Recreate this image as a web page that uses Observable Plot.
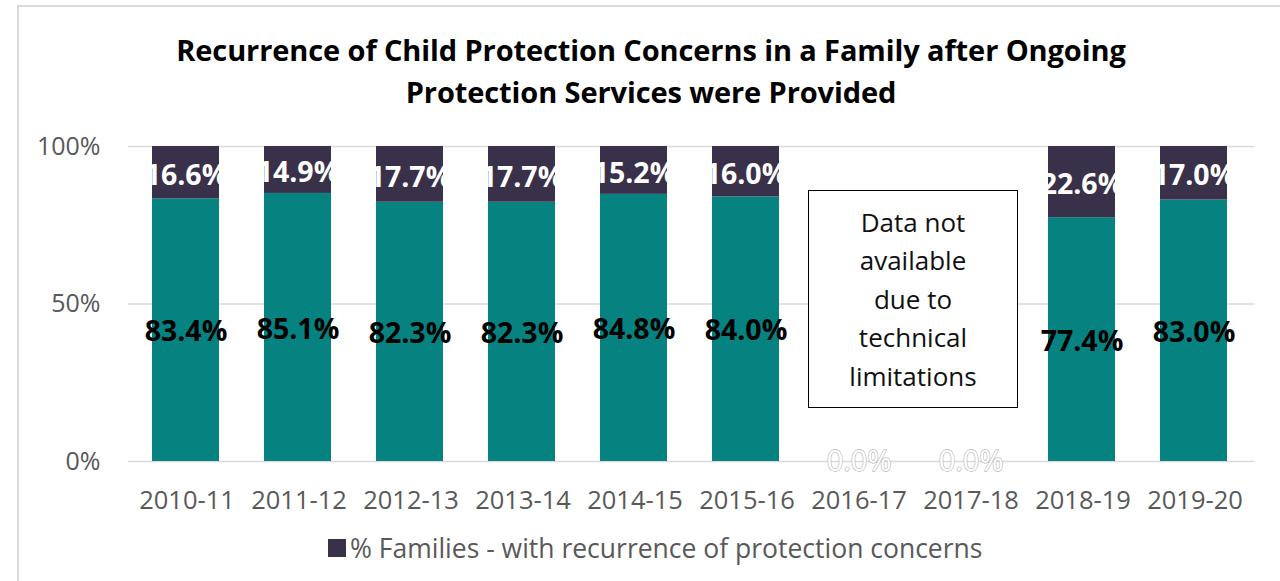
<!DOCTYPE html>
<html>
<head>
<meta charset="utf-8">
<script src="https://cdn.jsdelivr.net/npm/d3@7"></script>
<script src="https://cdn.jsdelivr.net/npm/@observablehq/plot@0.6"></script>
<style>
  body { margin: 0; background: #fff; }
  #wrap { position: relative; width: 1280px; height: 581px; overflow: hidden; font-family: "Open Sans", sans-serif; }
  #frame { position: absolute; left: 17px; top: 5px; width: 1300px; height: 640px; border: 2px solid #d9d9d9; box-sizing: border-box; }
  #title { position: absolute; left: 17px; width: 1268px; top: 29px; text-align: center; font-size: 29px; font-weight: 700; line-height: 42px; color: #000; letter-spacing: -0.1px; }
  #chart { position: absolute; left: 0; top: 120px; }
  #note { position: absolute; left: 808px; top: 190px; width: 210px; height: 218px; box-sizing: border-box; border: 1.5px solid #000; background: #fff; display: flex; align-items: center; justify-content: center; text-align: center; font-size: 26px; line-height: 38.5px; color: #111; }
  #legend { position: absolute; left: 328px; top: 533px; height: 30px; display: flex; align-items: center; font-size: 26.5px; color: #595959; }
  #legend .sw { width: 18px; height: 18px; background: #383149; margin-right: 4px; }
</style>
</head>
<body>
<div id="wrap">
  <div id="frame"></div>
  <div id="title">Recurrence of Child Protection Concerns in a Family after Ongoing<br>Protection Services were Provided</div>
  <div id="chart"></div>
  <div id="note"><div>Data not<br>available<br>due to<br>technical<br>limitations</div></div>
  <div id="legend"><div class="sw"></div><span>% Families - with recurrence of protection concerns</span></div>
</div>
<script>
const years = ["2010-11","2011-12","2012-13","2013-14","2014-15","2015-16","2016-17","2017-18","2018-19","2019-20"];
const noRecurrence = [83.4, 85.1, 82.3, 82.3, 84.8, 84.0, 0, 0, 77.4, 83.0];
const withRecurrence = [16.6, 14.9, 17.7, 17.7, 15.2, 16.0, 0, 0, 22.6, 17.0];
const yTicks = [0, 50, 100];

const teal = "#068381";
const dark = "#383149";

const rows = years.map((year, i) => ({year, rest: noRecurrence[i], recur: withRecurrence[i]}));
const withData = rows.filter(d => d.rest + d.recur > 0);
const noData = rows.filter(d => d.rest + d.recur === 0);

const chart = Plot.plot({
  width: 1280,
  height: 405,
  marginTop: 26,
  marginBottom: 64,
  marginLeft: 128,
  marginRight: 26,
  style: {fontFamily: "'Open Sans', sans-serif", fontSize: "25px", color: "#595959", background: "transparent"},
  x: {type: "band", domain: years, paddingInner: 0.4, paddingOuter: 0.2, label: null},
  y: {domain: [0, 100], label: null},
  marks: [
    Plot.gridY(yTicks, {stroke: "#d9d9d9", strokeOpacity: 1, strokeWidth: 1.5}),
    Plot.axisY(yTicks, {tickSize: 0, tickPadding: 28, tickFormat: d => d + "%", fontSize: 25, label: null}),
    Plot.axisX({tickSize: 0, tickPadding: 29, fontSize: 25.5, label: null}),
    Plot.barY(withData, {x: "year", y1: 0, y2: "rest", fill: teal, insetLeft: -1, insetRight: 1}),
    Plot.barY(withData, {x: "year", y1: "rest", y2: d => d.rest + d.recur, fill: dark, insetLeft: -1, insetRight: 1}),
    Plot.text(withData, {x: "year", y: d => d.rest / 2, text: d => d.rest.toFixed(1) + "%", fill: "#000", fontWeight: "bold", fontSize: 28.5, dy: 2, dx: -1}),
    Plot.text(withData, {x: "year", y: d => d.rest + d.recur / 2, text: d => d.recur.toFixed(1) + "%", fill: "#fff", fontWeight: "bold", fontSize: 28.5, dy: 3, dx: -1}),
    Plot.text(noData, {x: "year", y: d => d.rest, text: d => d.rest.toFixed(1) + "%", fill: "#fff", stroke: "#bdbdbd", strokeWidth: 1.4, fontSize: 29})
  ]
});
document.getElementById("chart").appendChild(chart);
</script>
</body>
</html>
